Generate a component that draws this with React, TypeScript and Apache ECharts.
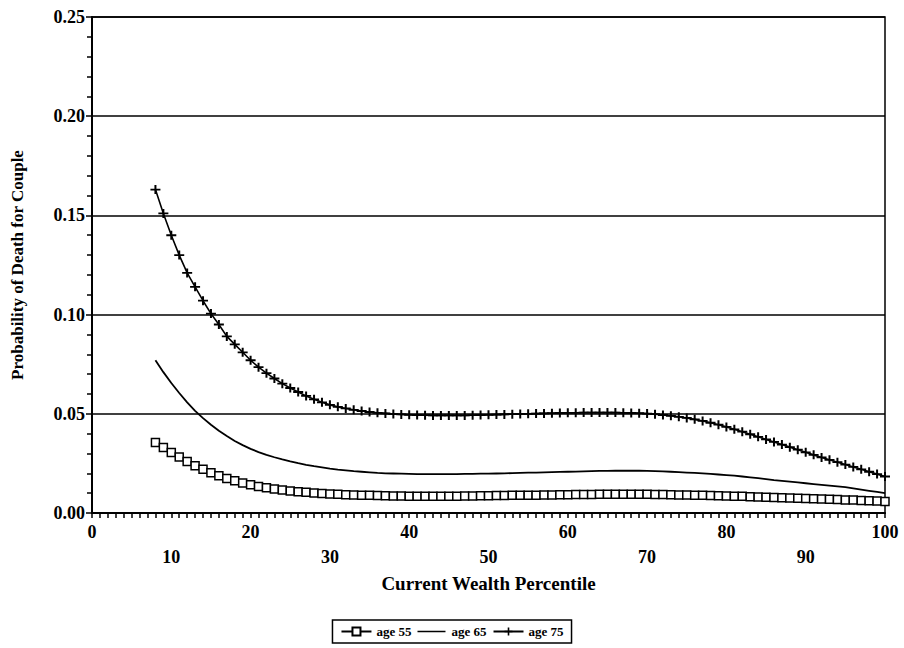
import React, { useEffect, useRef } from "react";
import * as echarts from "echarts";

const percentiles = [
  8, 9, 10, 11, 12, 13, 14, 15, 16, 17, 18, 19, 20, 21, 22, 23, 24, 25, 26, 27,
  28, 29, 30, 31, 32, 33, 34, 35, 36, 37, 38, 39, 40, 41, 42, 43, 44, 45, 46, 47,
  48, 49, 50, 51, 52, 53, 54, 55, 56, 57, 58, 59, 60, 61, 62, 63, 64, 65, 66, 67,
  68, 69, 70, 71, 72, 73, 74, 75, 76, 77, 78, 79, 80, 81, 82, 83, 84, 85, 86, 87,
  88, 89, 90, 91, 92, 93, 94, 95, 96, 97, 98, 99, 100,
];

const age55 = [
  0.0355, 0.033, 0.0305, 0.0282, 0.026, 0.0238, 0.022, 0.0203, 0.0188, 0.0174,
  0.0162, 0.0151, 0.0142, 0.0134, 0.0127, 0.0121, 0.0116, 0.0111, 0.0107, 0.0104,
  0.0101, 0.0098, 0.0096, 0.0094, 0.0092, 0.0091, 0.009, 0.0089, 0.0088, 0.0087,
  0.0086, 0.0086, 0.0085, 0.0085, 0.0085, 0.0085, 0.0085, 0.0085, 0.0085, 0.0086,
  0.0086, 0.0087, 0.0087, 0.0088, 0.0088, 0.0089, 0.0089, 0.009, 0.009, 0.0091,
  0.0091, 0.0092, 0.0092, 0.0093, 0.0093, 0.0093, 0.0094, 0.0094, 0.0094, 0.0094,
  0.0094, 0.0094, 0.0094, 0.0093, 0.0093, 0.0092, 0.0091, 0.0091, 0.009, 0.0089,
  0.0088, 0.0087, 0.0086, 0.0085, 0.0084, 0.0082, 0.0081, 0.008, 0.0078, 0.0077,
  0.0076, 0.0074, 0.0073, 0.0072, 0.007, 0.0069, 0.0068, 0.0066, 0.0065, 0.0063,
  0.0062, 0.006, 0.0058,
];

const age65 = [
  0.077, 0.071, 0.0655, 0.0605, 0.0558, 0.0515, 0.0478, 0.0445, 0.0415, 0.0388,
  0.0363, 0.0342, 0.0323, 0.0307, 0.0293, 0.0281, 0.027, 0.026, 0.0251, 0.0243,
  0.0236, 0.023, 0.0224, 0.0219, 0.0215, 0.0211, 0.0208, 0.0205, 0.0202, 0.02,
  0.0199, 0.0198, 0.0197, 0.0196, 0.0196, 0.0196, 0.0196, 0.0196, 0.0196, 0.0197,
  0.0197, 0.0198, 0.0198, 0.0199, 0.02, 0.0201, 0.0202, 0.0203, 0.0204, 0.0205,
  0.0206, 0.0207, 0.0208, 0.0209, 0.021, 0.0211, 0.0212, 0.0212, 0.0213, 0.0213,
  0.0213, 0.0213, 0.0212, 0.0211, 0.021, 0.0208, 0.0206, 0.0204, 0.0202, 0.02,
  0.0197, 0.0194, 0.0191, 0.0188, 0.0184, 0.018, 0.0176, 0.0171, 0.0166, 0.0162,
  0.0158, 0.0154, 0.015, 0.0146, 0.0142, 0.0138, 0.0134, 0.013, 0.0124, 0.0118,
  0.0112, 0.0106, 0.01,
];

const age75 = [
  0.163, 0.151, 0.14, 0.13, 0.121, 0.114, 0.107, 0.1005, 0.095, 0.089,
  0.085, 0.081, 0.077, 0.0735, 0.0705, 0.0678, 0.0652, 0.063, 0.061, 0.059,
  0.0573, 0.0558, 0.0545, 0.0535, 0.0527, 0.052, 0.0514, 0.0509, 0.0505, 0.0502,
  0.0499, 0.0497, 0.0495, 0.0494, 0.0493, 0.0492, 0.0492, 0.0492, 0.0492, 0.0492,
  0.0493, 0.0494, 0.0495, 0.0496, 0.0497, 0.0498, 0.0499, 0.05, 0.0501, 0.0502,
  0.0503, 0.0504, 0.0505, 0.0505, 0.0506, 0.0506, 0.0506, 0.0506, 0.0506, 0.0505,
  0.0504, 0.0503, 0.0501, 0.0498, 0.0494, 0.049, 0.0485, 0.0479, 0.0472, 0.0464,
  0.0455, 0.0445, 0.0434, 0.0422, 0.041, 0.0397, 0.0384, 0.0371, 0.0358, 0.0345,
  0.0332, 0.0319, 0.0306, 0.0293, 0.028, 0.0268, 0.0256, 0.0244, 0.0232, 0.022,
  0.0208, 0.0196, 0.0184,
];

const seriesNames = ["age 55", "age 65", "age 75"];

const FONT = "'Liberation Serif', 'Times New Roman', serif";
const PLUS = "path://M0,4H4V0H6V4H10V6H6V10H4V6H0Z";
const LINE_ICON = "path://M0,0H0.01V0.01H0Z M0,4.3H28V5.7H0Z M27.99,9.99H28V10H27.99Z";

function pairs(ys: number[]) {
  return percentiles.map((x, i) => [x, ys[i]]);
}

export default function App() {
  const ref = useRef<HTMLDivElement>(null);
  useEffect(() => {
    if (!ref.current) return;
    const chart = echarts.init(ref.current, null, { renderer: "svg" });
    chart.setOption({
      animation: false,
      backgroundColor: "#fff",
      grid: {
        left: 92,
        right: 19,
        top: 17,
        bottom: 135,
        show: true,
        borderColor: "#000",
        borderWidth: 1.5,
      },
      legend: {
        bottom: 5,
        left: "center",
        data: [
          { name: seriesNames[0] },
          { name: seriesNames[1], icon: LINE_ICON },
          { name: seriesNames[2] },
        ],
        borderColor: "#000",
        borderWidth: 1.5,
        borderRadius: 0,
        padding: [5, 8],
        itemGap: 6,
        itemWidth: 30,
        itemHeight: 10,
        textStyle: {
          fontFamily: FONT,
          fontWeight: "bold",
          fontSize: 13,
          color: "#000",
        },
      },
      xAxis: {
        type: "value",
        min: 0,
        max: 100,
        interval: 10,
        name: "Current Wealth Percentile",
        nameLocation: "middle",
        nameGap: 57,
        nameTextStyle: {
          fontFamily: FONT,
          fontWeight: "bold",
          fontSize: 19,
          color: "#000",
        },
        axisLine: { lineStyle: { color: "#000", width: 2 } },
        axisTick: { show: true, length: 5, lineStyle: { color: "#000", width: 1.5 } },
        minorTick: { show: true, splitNumber: 10, length: 5, lineStyle: { color: "#000", width: 1.5 } },
        splitLine: { show: false },
        axisLabel: {
          fontFamily: FONT,
          fontWeight: "bold",
          fontSize: 18,
          color: "#000",
          margin: 6,
          lineHeight: 25,
          formatter: (v: number) => (v % 20 === 10 ? "\n" + v : String(v)),
        },
      },
      yAxis: {
        type: "value",
        min: 0,
        max: 0.25,
        interval: 0.05,
        name: "Probability of Death for Couple",
        nameLocation: "middle",
        nameGap: 66,
        nameTextStyle: {
          fontFamily: FONT,
          fontWeight: "bold",
          fontSize: 17,
          color: "#000",
        },
        axisLine: { show: true, lineStyle: { color: "#000", width: 2 } },
        axisTick: { show: true, length: 6, lineStyle: { color: "#000", width: 1.5 } },
        minorTick: { show: true, splitNumber: 5, length: 5, lineStyle: { color: "#000", width: 1.5 } },
        splitLine: { show: true, lineStyle: { color: "#000", width: 1.5 } },
        axisLabel: {
          fontFamily: FONT,
          fontWeight: "bold",
          fontSize: 18,
          color: "#000",
          margin: 7,
          formatter: (v: number) => v.toFixed(2),
        },
      },
      series: [
        {
          name: seriesNames[0],
          type: "line",
          data: pairs(age55),
          symbol: "rect",
          symbolSize: 8,
          showAllSymbol: true,
          lineStyle: { color: "#000", width: 1 },
          itemStyle: { color: "#fff", borderColor: "#000", borderWidth: 1.5 },
          z: 3,
        },
        {
          name: seriesNames[1],
          type: "line",
          data: pairs(age65),
          showSymbol: false,
          symbol: "none",
          lineStyle: { color: "#000", width: 1.8 },
          itemStyle: { color: "#000" },
          z: 2,
        },
        {
          name: seriesNames[2],
          type: "line",
          data: pairs(age75),
          symbol: PLUS,
          symbolSize: [10, 9],
          showAllSymbol: true,
          lineStyle: { color: "#000", width: 1.6 },
          itemStyle: { color: "#000" },
          z: 4,
        },
      ],
    });
    return () => chart.dispose();
  }, []);
  return (
    <div
      ref={ref}
      style={{ position: "fixed", left: 0, top: 0, width: 904, height: 648, background: "#fff" }}
    />
  );
}
